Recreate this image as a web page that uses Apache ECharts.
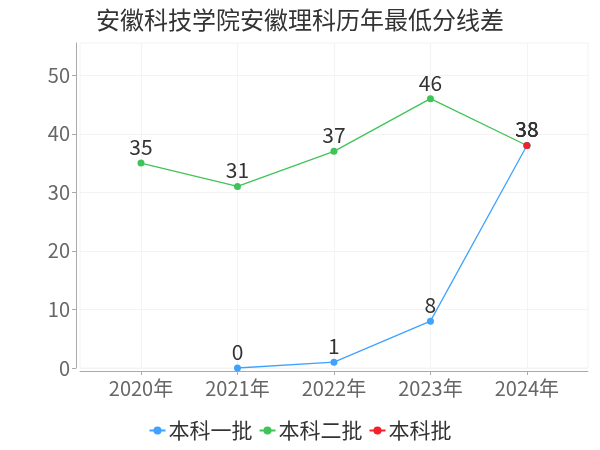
<!DOCTYPE html>
<html><head><meta charset="utf-8">
<script src="https://cdn.jsdelivr.net/npm/echarts@6/dist/echarts.min.js"></script>
<style>html,body{margin:0;padding:0;background:#fff}#c{width:600px;height:450px}</style>
</head><body><div id="c"></div>
<script>
var titleText = '安徽科技学院安徽理科历年最低分线差';
var categories = ['2020年', '2021年', '2022年', '2023年', '2024年'];
var seriesNames = ['本科一批', '本科二批', '本科批'];
var benke1 = [null, 0, 1, 8, 38];
var benke2 = [35, 31, 37, 46, 38];
var benke = [null, null, null, null, 38];
var yTicks = [0, 10, 20, 30, 40, 50];
var colors = ['#3fa2ff', '#40c457', '#f2202a'];

function toPairs(arr) {
  var out = [];
  for (var i = 0; i < arr.length; i++) { if (arr[i] !== null) out.push([i, arr[i]]); }
  return out;
}
var idx = categories.map(function (c, i) { return i; });
var font = '"Noto Sans CJK SC", "Noto Sans", sans-serif';
var chart = echarts.init(document.getElementById('c'));
function mk(name, data, color, z) {
  return {
    name: name, type: 'line', data: toPairs(data), z: z,
    symbol: 'circle', symbolSize: 7,
    itemStyle: { color: color },
    lineStyle: { color: color, width: 1.3 },
    label: { show: true, position: 'top', distance: 2, color: '#333', fontSize: 21, fontFamily: font },
    emphasis: { disabled: true }
  };
}
chart.setOption({
  animation: false,
  textStyle: { fontFamily: font },
  title: { text: titleText, left: 'center', top: 3, textStyle: { fontSize: 24, fontWeight: 'normal', color: '#333', fontFamily: font } },
  legend: {
    bottom: 4, left: 'center', itemGap: 6, itemWidth: 16, itemHeight: 10,
    textStyle: { fontSize: 21, color: '#333', fontFamily: font, padding: [0, 0, 0, -2] },
    data: seriesNames
  },
  grid: { left: 80, right: 12, top: 43, bottom: 82, show: true, borderColor: '#f2f2f2', borderWidth: 1 },
  xAxis: {
    type: 'value', min: -0.632, max: 4.633, offset: 3,
    axisLine: { show: true, onZero: false, lineStyle: { color: '#aaa' } },
    axisTick: { show: true, customValues: idx, length: 4, lineStyle: { color: '#aaa' } },
    axisLabel: { customValues: idx, color: '#666', fontSize: 20, margin: 7, fontFamily: font,
      formatter: function (v) { return categories[Math.round(v)]; } },
    splitLine: { show: true, lineStyle: { color: '#f3f3f3' } }
  },
  yAxis: {
    type: 'value', min: 0, max: 55.5, offset: 4,
    axisLine: { show: true, onZero: false, lineStyle: { color: '#aaa' } },
    axisTick: { show: true, customValues: yTicks, length: 4, lineStyle: { color: '#aaa' } },
    axisLabel: { customValues: yTicks, color: '#666', fontSize: 20, margin: 6, fontFamily: font },
    splitLine: { show: true, lineStyle: { color: '#f3f3f3' } }
  },
  series: [
    mk(seriesNames[0], benke1, colors[0], 3),
    mk(seriesNames[1], benke2, colors[1], 2),
    mk(seriesNames[2], benke, colors[2], 4)
  ]
});
</script></body></html>
